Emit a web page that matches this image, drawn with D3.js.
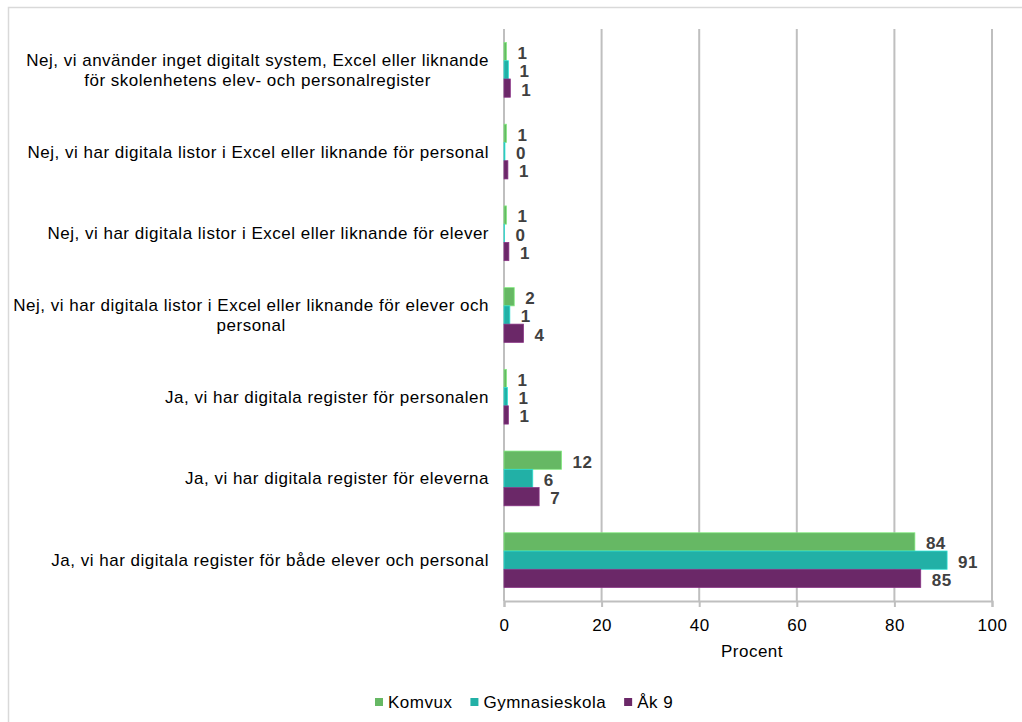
<!DOCTYPE html>
<html>
<head>
<meta charset="utf-8">
<script src="https://cdn.jsdelivr.net/npm/d3@7"></script>
<style>
  body { margin: 0; background: #fff; }
  svg { font-family: "Liberation Sans", Arial, sans-serif; }
  svg text { letter-spacing: 0.5px; }
</style>
</head>
<body>
<div id="chart"></div>
<script>
// data, top to bottom as drawn
const categories = [
  "Nej, vi använder inget digitalt system, Excel eller liknande\nför skolenhetens elev- och personalregister",
  "Nej, vi har digitala listor i Excel eller liknande för personal",
  "Nej, vi har digitala listor i Excel eller liknande för elever",
  "Nej, vi har digitala listor i Excel eller liknande för elever och\npersonal",
  "Ja, vi har digitala register för personalen",
  "Ja, vi har digitala register för eleverna",
  "Ja, vi har digitala register för både elever och personal"
];
const series = ["Komvux", "Gymnasieskola", "Åk 9"];
const komvux = [0.5, 0.5, 0.5, 2.1, 0.5, 11.8, 84.2];
const gymnasieskola = [0.9, 0.2, 0.1, 1.2, 0.7, 5.9, 90.8];
const ak9 = [1.3, 0.8, 1.0, 4.0, 0.9, 7.2, 85.4];
const xTicks = [0, 20, 40, 60, 80, 100];
const colors = ["#66b864", "#22b0a6", "#6b2868"];

const values = [komvux, gymnasieskola, ak9];
const data = categories.map((c, i) => ({
  cat: c,
  vals: series.map((s, j) => ({ key: s, value: values[j][i] }))
}));

const W = 1022, H = 722;
const svg = d3.select("#chart").append("svg")
  .attr("width", W).attr("height", H);

// chart border
svg.append("rect")
  .attr("x", 8.5).attr("y", 7.5)
  .attr("width", W + 10).attr("height", H + 10)
  .attr("fill", "none").attr("stroke", "#d9d9d9").attr("stroke-width", 1.5);

const x = d3.scaleLinear().domain([0, 100]).range([504, 992]);
const y = d3.scaleBand().domain(categories).range([29, 601])
  .paddingInner(0.33).paddingOuter(0.165);
const ySub = d3.scaleBand().domain(series).range([0, y.bandwidth()]);
const color = d3.scaleOrdinal().domain(series).range(colors);

// gridlines
svg.append("g")
  .selectAll("line")
  .data(xTicks)
  .join("line")
  .attr("x1", d => x(d)).attr("x2", d => x(d))
  .attr("y1", 29).attr("y2", 601)
  .attr("stroke", "#bfbfbf").attr("stroke-width", 2);

// x axis
const xAxis = svg.append("g")
  .attr("transform", "translate(0,601)")
  .call(d3.axisBottom(x).tickValues(xTicks).tickSize(6).tickPadding(12));
xAxis.select(".domain").attr("stroke", "#bfbfbf").attr("stroke-width", 2);
xAxis.selectAll(".tick line").attr("stroke", "#bfbfbf").attr("stroke-width", 2);
xAxis.selectAll("text")
  .attr("fill", "#000")
  .style("font-size", "17px")
  .style("font-family", "Liberation Sans, Arial, sans-serif");

svg.append("text")
  .attr("x", 752).attr("y", 657)
  .attr("text-anchor", "middle")
  .style("font-size", "17px")
  .text("Procent");

// bars
const groups = svg.append("g")
  .selectAll("g")
  .data(data)
  .join("g")
  .attr("transform", d => `translate(0,${y(d.cat)})`);

groups.selectAll("rect")
  .data(d => d.vals)
  .join("rect")
  .attr("x", x(0))
  .attr("y", d => ySub(d.key))
  .attr("width", d => x(d.value) - x(0))
  .attr("height", ySub.bandwidth())
  .attr("fill", d => color(d.key))
  .attr("stroke", d => d3.color(color(d.key)).brighter(0.7))
  .attr("stroke-width", 0.75);

// value labels
groups.selectAll("text")
  .data(d => d.vals)
  .join("text")
  .attr("x", d => x(d.value) + 11)
  .attr("y", d => ySub(d.key) + ySub.bandwidth() / 2 + 1)
  .attr("dy", "0.38em")
  .attr("fill", "#404040")
  .style("font-size", "17px")
  .style("font-weight", "bold")
  .text(d => Math.round(d.value));

// category labels: block right aligned, lines centred
const labelRight = 489;
const lineH = 20;
categories.forEach(c => {
  const lines = c.split("\n");
  const t = svg.append("text")
    .attr("text-anchor", "middle")
    .attr("fill", "#000")
    .style("font-size", "17px");
  const cy = y(c) + y.bandwidth() / 2;
  lines.forEach((ln, i) => {
    t.append("tspan")
      .attr("y", cy + (i - (lines.length - 1) / 2) * lineH)
      .attr("dy", "0.35em")
      .text(ln);
  });
  const maxW = d3.max(t.selectAll("tspan").nodes(), n => n.getComputedTextLength());
  t.selectAll("tspan").attr("x", labelRight - maxW / 2);
});

// legend
const legend = svg.append("g").attr("transform", "translate(375,702)");
let lx = 0;
series.forEach((s, i) => {
  legend.append("rect")
    .attr("x", lx).attr("y", -4)
    .attr("width", 8).attr("height", 8)
    .attr("fill", colors[i]);
  const t = legend.append("text")
    .attr("x", lx + 13).attr("y", 0)
    .attr("dy", "0.35em")
    .style("font-size", "17px")
    .text(s);
  lx += 13 + t.node().getComputedTextLength() + 18;
});
</script>
</body>
</html>
